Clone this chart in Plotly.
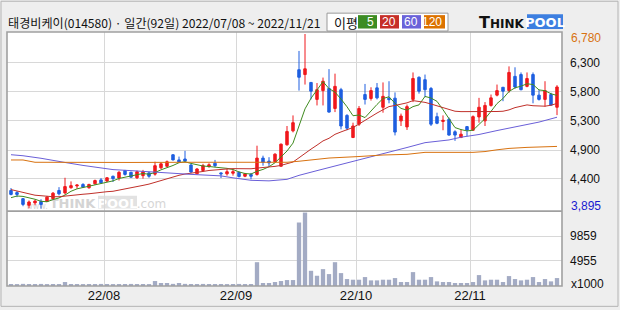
import plotly.graph_objects as go
import pandas as pd

# ---------------- data ----------------
title_text = "태경비케이(014580) · 일간(92일) 2022/07/08 ~ 2022/11/21"

opens = [4195, 4160, 4060, 3950, 3990, 4015, 4015, 4060, 4195, 4155,
         4240, 4270, 4295, 4240, 4305, 4370, 4350, 4430, 4400, 4525,
         4495, 4405, 4440, 4485, 4465, 4570, 4595, 4785, 4700, 4715,
         4615, 4470, 4525, 4590, 4645, 4485, 4470, 4480, 4495, 4430,
         4460, 4460, 4730, 4680, 4670, 4595, 4950, 5180, 6190, 6110,
         5980, 5700, 5845, 5880, 5550, 5860, 5435, 5070, 5290, 5780,
         5715, 5890, 5570, 5720, 5720, 5345, 5245, 5700, 6065, 6025,
         5880, 5415, 5335, 5370, 5165, 5070, 5250, 5190, 5410, 5345,
         5600, 5770, 5900, 5845, 6080, 6110, 5915, 6110, 5770, 5700,
         5780, 5570]
highs = [4235, 4185, 4070, 4030, 4040, 4050, 4105, 4170, 4250, 4405,
         4345, 4295, 4315, 4305, 4375, 4400, 4415, 4440, 4515, 4535,
         4505, 4525, 4535, 4505, 4670, 4660, 4690, 4795, 4755, 4850,
         4635, 4565, 4635, 4645, 4700, 4495, 4550, 4550, 4505, 4485,
         4485, 4935, 4770, 4745, 4810, 4970, 5260, 5435, 6500, 6780,
         5985, 5970, 6060, 6200, 6125, 5890, 5455, 5315, 5590, 5955,
         5900, 5970, 5980, 6000, 5815, 5465, 5615, 6145, 6080, 6110,
         5905, 5480, 5435, 5400, 5190, 5205, 5260, 5435, 5725, 5655,
         5780, 5945, 5905, 6245, 6230, 6145, 6145, 6145, 5860, 6000,
         5810, 5935]
lows = [4115, 4085, 3935, 3900, 3950, 3895, 4005, 4050, 4115, 4130,
        4225, 4225, 4235, 4225, 4290, 4305, 4335, 4335, 4360, 4440,
        4405, 4385, 4390, 4405, 4440, 4550, 4580, 4690, 4650, 4660,
        4485, 4460, 4505, 4570, 4580, 4400, 4440, 4440, 4410, 4415,
        4380, 4440, 4605, 4590, 4660, 4590, 4935, 5155, 5845, 5945,
        5700, 5600, 5600, 5480, 5490, 5205, 5190, 5060, 5260, 5615,
        5680, 5700, 5480, 5635, 5105, 5260, 5195, 5655, 5795, 5735,
        5260, 5290, 5190, 5100, 5015, 5060, 5090, 5180, 5315, 5260,
        5580, 5750, 5670, 5810, 5875, 5850, 5900, 5635, 5680, 5580,
        5600, 5440]
closes = [4130, 4130, 3965, 4005, 4020, 3965, 4085, 4150, 4140, 4260,
          4275, 4285, 4250, 4295, 4360, 4320, 4405, 4390, 4495, 4460,
          4415, 4505, 4505, 4430, 4605, 4635, 4670, 4700, 4660, 4680,
          4500, 4550, 4605, 4620, 4605, 4470, 4505, 4505, 4425, 4470,
          4430, 4730, 4660, 4650, 4795, 4960, 5170, 5315, 6065, 6205,
          5835, 5860, 6000, 5490, 5915, 5260, 5225, 5260, 5550, 5700,
          5845, 5725, 5750, 5695, 5160, 5425, 5580, 6045, 5835, 5860,
          5290, 5305, 5355, 5110, 5110, 5125, 5195, 5415, 5570, 5600,
          5725, 5845, 5835, 6145, 5905, 5860, 6045, 5770, 5700, 5845,
          5605, 5905]
volumes = [400, 380, 420, 400, 390, 410, 380, 400, 390, 784,
           400, 390, 380, 400, 390, 410, 400, 380, 390, 400,
           410, 390, 400, 380, 980, 588, 588, 420, 588, 420,
           400, 390, 410, 400, 390, 400, 380, 400, 410, 390,
           400, 4704, 588, 588, 784, 980, 1176, 1176, 12544, 14504,
           3005, 2025, 3332, 2352, 4704, 2548, 1372, 1242, 1242, 1764,
           1111, 1111, 1242, 1242, 1568, 784, 784, 2744, 1242, 1242,
           1764, 915, 784, 784, 588, 588, 588, 784, 2156, 1111,
           1242, 1242, 784, 1960, 1372, 1111, 1242, 1764, 784, 1372,
           915, 1568]  # x1000 shares

# moving-average values before enough closes are on screen
ma5_head = [4076, 4104, 4097, 4076]
ma20_head = [4210, 4190, 4166, 4140, 4117, 4105, 4092, 4092, 4092, 4105,
             4117, 4125, 4133, 4141, 4155, 4166, 4175, 4182, 4200]
# long moving averages at sample candles
ma60_idx = [0, 2, 5, 7, 9, 12, 15, 17, 20, 23, 26, 30, 33, 35, 37, 40, 43, 45,
            46, 47, 48, 51, 55, 58, 62, 66, 69, 73, 75, 78, 81, 85, 88, 91]
ma60_val = [4786, 4769, 4727, 4687, 4658, 4609, 4563, 4540, 4523, 4510, 4486,
            4461, 4441, 4436, 4404, 4363, 4354, 4363, 4379, 4412, 4445, 4523,
            4625, 4690, 4792, 4905, 4985, 5030, 5075, 5120, 5185, 5262, 5325, 5405]
ma120_idx = [0, 2, 4, 10, 20, 30, 40, 46, 48, 50, 53, 58, 62, 66, 69, 77, 79,
             81, 83, 86, 89, 91]
ma120_val = [4699, 4699, 4661, 4658, 4658, 4661, 4661, 4661, 4678, 4699, 4731,
             4756, 4781, 4792, 4825, 4825, 4838, 4867, 4890, 4907, 4923, 4923]

month_ticks = [15.5, 37.5, 57.5, 76.5]
month_labels = ["22/08", "22/09", "22/10", "22/11"]
price_grid = [6305, 5830, 5354, 4863, 4387]
price_labels = ["6,300", "5,800", "5,300", "4,900", "4,400"]
vol_grid = [4955, 9859]
vol_labels = ["4955", "9859"]
ma_periods = [5, 20, 60, 120]

# ---------------- styling ----------------
RED = "#f0181c"
BLUE = "#1e5fe0"
MA_COLORS = ["#3f8b1f", "#c0302a", "#6a5fd8", "#d87210"]
LEG_COLORS = ["#3c8c23", "#c62f28", "#6a62d9", "#dc7200"]
GRID = "#d8d8d8"
FRAME = "#a0a0a0"
VOLC = "#a3abc4"

W, H = 620, 310
L, R, T, B = 7, 562, 32, 288
SEP = 212.5

def px(x):
    return (x - L) / (R - L)

def py(y):
    return (B - y) / (B - T)

n = len(closes)
idx = list(range(n))
cs = pd.Series(closes, dtype=float)
ma5 = cs.rolling(5).mean().tolist()
ma5[:len(ma5_head)] = ma5_head
ma20 = cs.rolling(20).mean().tolist()
ma20[:len(ma20_head)] = ma20_head

fig = go.Figure()

ma_series = [(idx, ma5), (idx, ma20), (ma60_idx, ma60_val), (ma120_idx, ma120_val)]
for (xs, ys), col in zip(ma_series, MA_COLORS):
    fig.add_trace(go.Scatter(x=xs, y=ys, mode="lines", xaxis="x2", yaxis="y",
                             line=dict(color=col, width=1), hoverinfo="skip"))

fig.add_trace(go.Candlestick(
    x=idx, open=opens, high=highs, low=lows, close=closes,
    xaxis="x2", yaxis="y", whiskerwidth=0,
    increasing=dict(line=dict(color=RED, width=1), fillcolor=RED),
    decreasing=dict(line=dict(color=BLUE, width=1), fillcolor=BLUE),
))

fig.add_trace(go.Bar(x=idx, y=volumes, xaxis="x", yaxis="y2", width=0.72,
                     marker=dict(color=VOLC, line=dict(width=0))))

price_range = [6813 - (SEP - T) * 16.39, 6813]
vol_range = [0, (B - SEP) * 196]

shapes = []
annos = []

# watermark (drawn under the candles)
def wm(x0, x1, y0, y1, text, size, color, fill="rgba(0,0,0,0)", bold=True):
    shapes.append(dict(type="rect", xref="x2 domain", yref="y domain", layer="below",
                       x0=px(x0), x1=px(x1),
                       y0=(SEP - y1) / (SEP - T), y1=(SEP - y0) / (SEP - T),
                       fillcolor=fill, line=dict(width=0),
                       label=dict(text=("<b>%s</b>" % text) if bold else text,
                                  font=dict(family="DejaVu Sans", size=size, color=color),
                                  textposition="middle center")))

wm(27, 47, 202, 211, "www.", 8, "#d6d6d6", bold=False)
wm(48, 97, 196, 211, "THINK", 13, "#d4d4d4")
wm(98, 137, 197, 210, "POOL", 13, "#ffffff", fill="#e2e2e2")
wm(138, 165, 198, 211, ".com", 12, "#d6d6d6", bold=False)

# frames
shapes.append(dict(type="rect", xref="paper", yref="paper", x0=px(1), x1=px(618),
                   y0=py(308.5), y1=py(1), line=dict(color="#b4b4b4", width=1)))
shapes.append(dict(type="rect", xref="paper", yref="paper", x0=0, x1=1, y0=0, y1=1,
                   line=dict(color=FRAME, width=1.6)))
shapes.append(dict(type="line", xref="paper", yref="paper", x0=0, x1=1,
                   y0=py(SEP), y1=py(SEP), line=dict(color=FRAME, width=1.6)))

# legend box
shapes.append(dict(type="rect", xref="paper", yref="paper", x0=px(327), x1=px(448),
                   y0=py(31), y1=py(13), fillcolor="white", line=dict(color="#9a9a9a", width=1)))
annos.append(dict(xref="paper", yref="paper", x=px(332), y=py(22), text="이평",
                  showarrow=False, xanchor="left", yanchor="middle",
                  font=dict(family="Noto Sans CJK KR", size=13, color="#111")))
boxes = [(358, 377), (380, 399), (402, 421), (424, 445)]
for (b0, b1), per, col in zip(boxes, ma_periods, LEG_COLORS):
    shapes.append(dict(type="rect", xref="paper", yref="paper", x0=px(b0), x1=px(b1),
                       y0=py(28.5), y1=py(15), fillcolor=col, line=dict(width=0)))
    annos.append(dict(xref="paper", yref="paper", x=px(b1 - 1), y=py(22), text=str(per),
                      showarrow=False, xanchor="right", yanchor="middle",
                      font=dict(family="Liberation Sans", size=12, color="white")))

# logo
shapes.append(dict(type="rect", xref="paper", yref="paper", x0=px(527), x1=px(563),
                   y0=py(29), y1=py(14), fillcolor="#3d7fe0", line=dict(width=0)))
annos.append(dict(xref="paper", yref="paper", x=px(526), y=py(22),
                  text="<b><span style='font-size:16px'>T</span>HINK</b>",
                  showarrow=False, xanchor="right", yanchor="middle",
                  font=dict(family="DejaVu Sans", size=12, color="#111")))
annos.append(dict(xref="paper", yref="paper", x=px(545), y=py(22), text="<b>POOL</b>",
                  showarrow=False, xanchor="center", yanchor="middle",
                  font=dict(family="DejaVu Sans", size=13, color="white")))

# title
annos.append(dict(xref="paper", yref="paper", x=px(6), y=py(22), text=title_text,
                  showarrow=False, xanchor="left", yanchor="middle",
                  font=dict(family="Noto Sans CJK KR", size=12.1, color="#111")))

# max / min price and unit labels
annos.append(dict(xref="paper", yref="paper", x=px(569), y=py(38), text=f"{max(highs):,}",
                  showarrow=False, xanchor="left", yanchor="middle",
                  font=dict(family="Liberation Sans", size=12, color="#d87210")))
annos.append(dict(xref="paper", yref="paper", x=px(569), y=py(207), text=f"{min(lows):,}",
                  showarrow=False, xanchor="left", yanchor="middle",
                  font=dict(family="Liberation Sans", size=12, color="#1a1ad0")))
annos.append(dict(xref="paper", yref="paper", x=px(569), y=py(286), text="x1000",
                  showarrow=False, xanchor="left", yanchor="middle",
                  font=dict(family="Liberation Sans", size=12, color="#111")))

xrange_ = [(L - 11) / 6, (R - 11) / 6]
tickfont = dict(family="Liberation Sans", size=12, color="#111")

fig.update_layout(
    width=W, height=H,
    margin=dict(l=L, r=W - R, t=T, b=H - B, pad=0),
    paper_bgcolor="#eeeeee", plot_bgcolor="white",
    showlegend=False, hovermode=False, boxgap=0.42,
    shapes=shapes, annotations=annos,
    xaxis=dict(domain=[0, 1], anchor="y2", range=xrange_, tickmode="array",
               tickvals=month_ticks, ticktext=month_labels, showgrid=True,
               gridcolor=GRID, gridwidth=1, zeroline=False, ticks="", showline=False,
               tickfont=dict(family="Liberation Sans", size=13, color="#111"),
               rangeslider=dict(visible=False)),
    xaxis2=dict(domain=[0, 1], anchor="y", matches="x", range=xrange_, tickmode="array",
                tickvals=month_ticks, showticklabels=False, showgrid=True,
                gridcolor=GRID, gridwidth=1, zeroline=False, ticks="",
                rangeslider=dict(visible=False)),
    yaxis=dict(domain=[py(SEP), 1], anchor="x2", range=price_range, side="right",
               tickmode="array", tickvals=price_grid, ticktext=price_labels,
               showgrid=True, gridcolor=GRID, gridwidth=1, zeroline=False, ticks="",
               tickfont=tickfont, ticklabelstandoff=7),
    yaxis2=dict(domain=[0, py(SEP)], anchor="x", range=vol_range, side="right",
                tickmode="array", tickvals=vol_grid, ticktext=vol_labels,
                showgrid=True, gridcolor=GRID, gridwidth=1, zeroline=False, ticks="",
                tickfont=tickfont, ticklabelstandoff=7),
)

fig.write_html("out.html")
